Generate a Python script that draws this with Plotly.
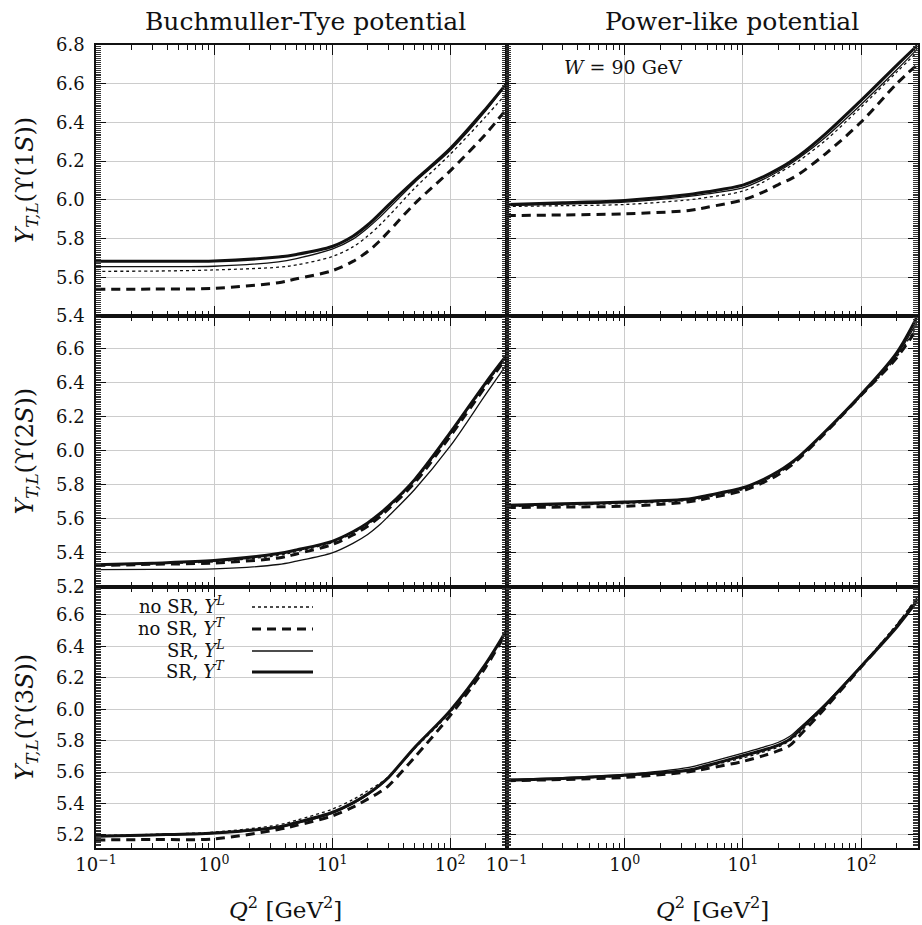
import math
import plotly.graph_objects as go

# ---------------- data ----------------
Q2 = [0.1, 0.3, 1, 3.5, 5, 10, 15, 20, 25, 30, 50, 100, 200, 300]

# Buchmuller-Tye potential, Upsilon(1S)
bt1_nosr_L = [5.631, 5.632, 5.638, 5.652, 5.664, 5.707, 5.757, 5.813, 5.866, 5.915, 6.060, 6.235, 6.430, 6.550]
bt1_nosr_T = [5.538, 5.539, 5.543, 5.572, 5.592, 5.634, 5.682, 5.733, 5.785, 5.835, 5.980, 6.150, 6.340, 6.470]
bt1_sr_L = [5.655, 5.655, 5.657, 5.680, 5.697, 5.745, 5.797, 5.855, 5.907, 5.955, 6.090, 6.255, 6.460, 6.600]
bt1_sr_T = [5.683, 5.683, 5.684, 5.705, 5.718, 5.759, 5.812, 5.870, 5.925, 5.973, 6.100, 6.265, 6.470, 6.600]

# Power-like potential, Upsilon(1S)
pl1_nosr_L = [5.966, 5.970, 5.976, 6.000, 6.013, 6.045, 6.093, 6.138, 6.172, 6.203, 6.307, 6.479, 6.660, 6.765]
pl1_nosr_T = [5.919, 5.922, 5.928, 5.945, 5.962, 6.000, 6.041, 6.079, 6.106, 6.134, 6.238, 6.402, 6.600, 6.700]
pl1_sr_L = [5.970, 5.978, 5.988, 6.018, 6.031, 6.062, 6.107, 6.148, 6.184, 6.217, 6.324, 6.493, 6.672, 6.780]
pl1_sr_T = [5.976, 5.985, 5.997, 6.028, 6.042, 6.076, 6.120, 6.160, 6.196, 6.229, 6.341, 6.514, 6.695, 6.798]

# Buchmuller-Tye potential, Upsilon(2S)
bt2_nosr_L = [5.328, 5.336, 5.348, 5.385, 5.408, 5.460, 5.516, 5.567, 5.617, 5.666, 5.820, 6.095, 6.388, 6.550]
bt2_nosr_T = [5.326, 5.333, 5.341, 5.370, 5.394, 5.449, 5.505, 5.557, 5.608, 5.658, 5.811, 6.085, 6.378, 6.545]
bt2_sr_L = [5.302, 5.303, 5.306, 5.332, 5.352, 5.400, 5.456, 5.508, 5.562, 5.615, 5.772, 6.026, 6.330, 6.505]
bt2_sr_T = [5.330, 5.340, 5.355, 5.396, 5.418, 5.468, 5.524, 5.576, 5.627, 5.674, 5.830, 6.105, 6.398, 6.558]

# Power-like potential, Upsilon(2S)
pl2_nosr_L = [5.672, 5.680, 5.690, 5.708, 5.727, 5.772, 5.822, 5.868, 5.914, 5.958, 6.106, 6.320, 6.550, 6.740]
pl2_nosr_T = [5.666, 5.669, 5.674, 5.700, 5.720, 5.765, 5.814, 5.860, 5.908, 5.955, 6.105, 6.325, 6.545, 6.720]
pl2_sr_L = [5.675, 5.683, 5.694, 5.713, 5.733, 5.778, 5.828, 5.875, 5.920, 5.963, 6.110, 6.325, 6.560, 6.760]
pl2_sr_T = [5.680, 5.688, 5.699, 5.717, 5.737, 5.782, 5.832, 5.879, 5.924, 5.967, 6.114, 6.330, 6.574, 6.790]

# Buchmuller-Tye potential, Upsilon(3S)
bt3_nosr_L = [5.196, 5.204, 5.218, 5.264, 5.294, 5.364, 5.425, 5.481, 5.526, 5.570, 5.750, 5.980, 6.280, 6.495]
bt3_nosr_T = [5.168, 5.171, 5.175, 5.235, 5.261, 5.321, 5.377, 5.428, 5.470, 5.513, 5.694, 5.960, 6.268, 6.491]
bt3_sr_L = [5.190, 5.198, 5.210, 5.247, 5.274, 5.338, 5.399, 5.455, 5.508, 5.560, 5.752, 5.988, 6.285, 6.500]
bt3_sr_T = [5.192, 5.200, 5.213, 5.251, 5.279, 5.343, 5.404, 5.460, 5.514, 5.566, 5.757, 5.991, 6.289, 6.502]

# Power-like potential, Upsilon(3S)
pl3_nosr_L = [5.550, 5.558, 5.575, 5.610, 5.636, 5.690, 5.728, 5.760, 5.800, 5.850, 6.020, 6.275, 6.540, 6.715]
pl3_nosr_T = [5.545, 5.553, 5.566, 5.602, 5.623, 5.668, 5.705, 5.736, 5.770, 5.830, 6.010, 6.268, 6.530, 6.705]
pl3_sr_L = [5.553, 5.565, 5.585, 5.630, 5.659, 5.721, 5.759, 5.790, 5.828, 5.880, 6.036, 6.278, 6.529, 6.700]
pl3_sr_T = [5.549, 5.560, 5.580, 5.613, 5.642, 5.704, 5.741, 5.772, 5.810, 5.866, 6.028, 6.272, 6.522, 6.692]

col_titles = ["Buchmuller-Tye potential", "Power-like potential"]
row_states = ["1<i>S</i>", "2<i>S</i>", "3<i>S</i>"]
x_tickvals = [0.1, 1, 10, 100]
x_ticktext = ["10<sup>\u22121</sup>", "10<sup>0</sup>", "10<sup>1</sup>", "10<sup>2</sup>"]
series_names = ["no SR, <i>Y</i><sup><i>L</i></sup>", "no SR, <i>Y</i><sup><i>T</i></sup>",
                "SR, <i>Y</i><sup><i>L</i></sup>", "SR, <i>Y</i><sup><i>T</i></sup>"]

panels = [
    [bt1_nosr_L, bt1_nosr_T, bt1_sr_L, bt1_sr_T],
    [pl1_nosr_L, pl1_nosr_T, pl1_sr_L, pl1_sr_T],
    [bt2_nosr_L, bt2_nosr_T, bt2_sr_L, bt2_sr_T],
    [pl2_nosr_L, pl2_nosr_T, pl2_sr_L, pl2_sr_T],
    [bt3_nosr_L, bt3_nosr_T, bt3_sr_L, bt3_sr_T],
    [pl3_nosr_L, pl3_nosr_T, pl3_sr_L, pl3_sr_T],
]

# ---------------- styling ----------------
FONT = "DejaVu Serif"
INK = "#111111"
styles = [
    dict(width=1.3, dash="3px,3px"),
    dict(width=3.0, dash="9px,6px"),
    dict(width=1.3, dash="solid"),
    dict(width=3.0, dash="solid"),
]

W, H = 922, 925
def px(x):
    return x / W
def py(y):
    return 1 - y / H

col_dom = [[px(96), px(506.5)], [px(506.5), px(917.5)]]
row_dom = [[py(316), py(45)], [py(587), py(316)], [py(848), py(587)]]
yranges = [[5.4, 6.8], [5.2, 6.79], [5.117, 6.778]]

minor_x = [m * 10 ** e for e in range(-1, 3) for m in range(2, 10)]

fig = go.Figure()
layout = dict()
for r in range(3):
    for c in range(2):
        k = r * 2 + c + 1
        xa = "x" if k == 1 else f"x{k}"
        ya = "y" if k == 1 else f"y{k}"
        for s, vals in enumerate(panels[k - 1]):
            fig.add_trace(go.Scatter(
                x=Q2, y=vals, mode="lines", xaxis=xa, yaxis=ya,
                name=series_names[s], showlegend=False,
                line=dict(color=INK, width=styles[s]["width"], dash=styles[s]["dash"],
                          shape="spline", smoothing=0.9),
                hoverinfo="skip"))
        xkey = "xaxis" if k == 1 else f"xaxis{k}"
        ykey = "yaxis" if k == 1 else f"yaxis{k}"
        layout[xkey] = dict(
            type="log", range=[-1, math.log10(300)], domain=col_dom[c], anchor=ya,
            showline=True, linecolor=INK, linewidth=1.5, mirror="allticks",
            ticks="inside", ticklen=10, tickwidth=1.3, tickcolor=INK,
            tickmode="array", tickvals=x_tickvals, ticktext=x_ticktext,
            showticklabels=(r == 2), tickfont=dict(family=FONT, size=18, color=INK),
            showgrid=True, gridcolor="#cccccc", gridwidth=1, zeroline=False,
            automargin=False,
            minor=dict(tickmode="array", tickvals=minor_x, ticks="inside", ticklen=5,
                       tickwidth=1, tickcolor=INK, showgrid=False),
        )
        layout[ykey] = dict(
            range=yranges[r], domain=row_dom[r], anchor=xa,
            showline=True, linecolor=INK, linewidth=1.5, mirror="allticks",
            ticks="inside", ticklen=10, tickwidth=1.3, tickcolor=INK,
            tick0=0, dtick=0.2, tickformat=".1f",
            showticklabels=(c == 0), tickfont=dict(family=FONT, size=18, color=INK),
            ticklabelstandoff=6, automargin=False,
            showgrid=True, gridcolor="#cccccc", gridwidth=1, zeroline=False,
            minor=dict(dtick=0.01, tick0=0, ticks="inside", ticklen=5, tickwidth=0.8,
                       tickcolor="#333333", showgrid=False),
        )

annotations = []
def ann(text, x, y, size, xanchor="center", **kw):
    d = dict(text=text, x=px(x), y=py(y), xref="paper", yref="paper", showarrow=False,
             xanchor=xanchor, yanchor="middle",
             font=dict(family=FONT, size=size, color=INK))
    d.update(kw)
    annotations.append(d)

ann(col_titles[0], 305, 22, 25)
ann(col_titles[1], 732, 22, 25)
ann("<i>W</i>\u00a0=\u00a090\u00a0GeV", 623, 67, 19)
row_centers = [180.5, 451.5, 717.5]
for r in range(3):
    ann(f"<i>Y</i><sub><i>T,L</i></sub>(\u03d2({row_states[r]}))", 26, row_centers[r], 24,
        textangle=-90)
ann("<i>Q</i><sup>2</sup> [GeV<sup>2</sup>]", 285, 908, 23)
ann("<i>Q</i><sup>2</sup> [GeV<sup>2</sup>]", 712, 908, 23)

# manual legend (text on the left, line sample on the right)
shapes = [dict(type="rect", xref="paper", yref="paper", x0=px(98), x1=px(326),
               y0=py(682), y1=py(588.5), fillcolor="white", line=dict(width=0),
               layer="between")]
leg_rows = [607, 629, 651, 672]
for s in range(4):
    ann(series_names[s], 227, leg_rows[s] - 2, 18, xanchor="right")
    shapes.append(dict(type="line", xref="paper", yref="paper",
                       x0=px(252), x1=px(313), y0=py(leg_rows[s]), y1=py(leg_rows[s]),
                       line=dict(color=INK, width=styles[s]["width"], dash=styles[s]["dash"])))

fig.update_layout(
    width=W, height=H, margin=dict(l=0, r=0, t=0, b=0, autoexpand=False),
    paper_bgcolor="white", plot_bgcolor="white",
    font=dict(family=FONT, color=INK), showlegend=False,
    annotations=annotations, shapes=shapes, **layout)

fig.write_html("out.html", config={"displayModeBar": False},
               post_script="document.body.style.margin='0px';document.body.style.overflow='hidden';")
